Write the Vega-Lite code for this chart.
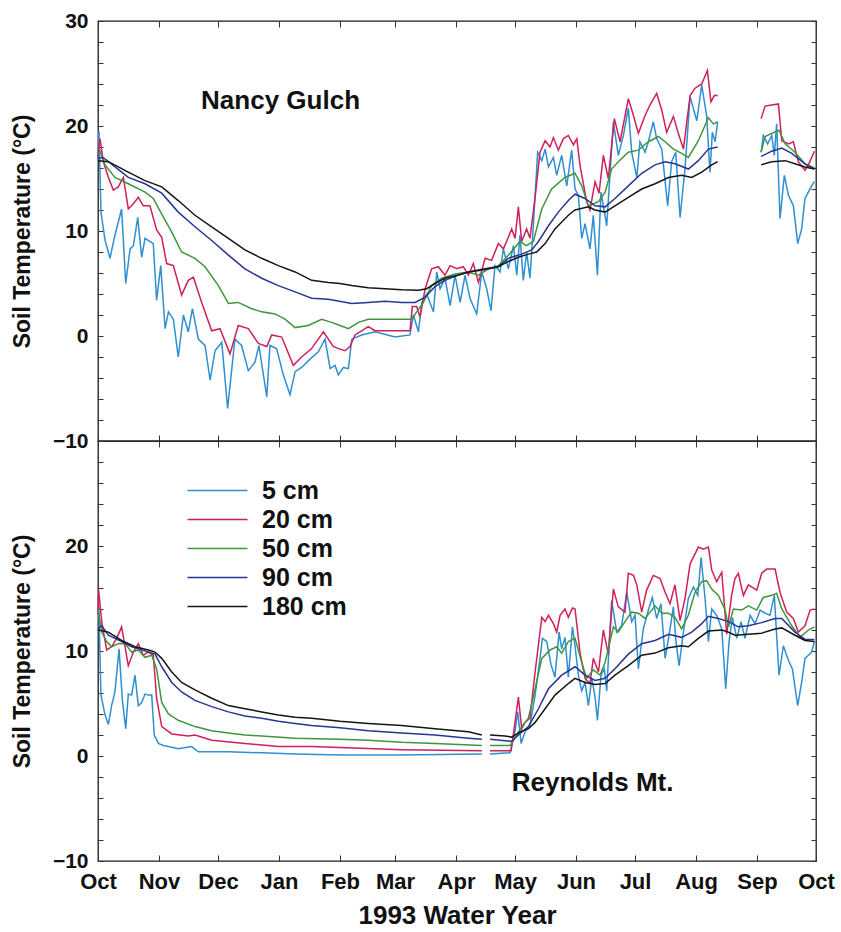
{
"$schema":"https://vega.github.io/schema/vega-lite/v6.json",
"padding":{"left":10,"top":9,"right":20,"bottom":4},
"bounds":"flush",
"config":{
 "font":"Liberation Sans",
 "view":{"stroke":"#1a1a1a","strokeWidth":1.3},
 "axis":{"grid":false,"domain":false,"labelFont":"Liberation Sans","labelFontWeight":"bold","labelFontSize":21,"labelColor":"#111","tickColor":"#333","tickWidth":1,"titleFont":"Liberation Sans","titleFontWeight":"bold","titleColor":"#111"}
},
"datasets":{
"ng":[
{"d":"5 cm","t":0,"v":16.8},{"d":"5 cm","t":0.5,"v":19.5},{"d":"5 cm","t":1.5,"v":11.8},{"d":"5 cm","t":3.6,"v":9.1},{"d":"5 cm","t":6.1,"v":7.4},{"d":"5 cm","t":8.6,"v":9.6},{"d":"5 cm","t":12,"v":12.1},{"d":"5 cm","t":14.1,"v":5},{"d":"5 cm","t":16.3,"v":8.3},{"d":"5 cm","t":18,"v":8.6},{"d":"5 cm","t":20.2,"v":11.3},{"d":"5 cm","t":22.2,"v":7.5},{"d":"5 cm","t":23.9,"v":9.3},{"d":"5 cm","t":28.1,"v":8.8},{"d":"5 cm","t":29.8,"v":3.4},{"d":"5 cm","t":31.9,"v":6.7},{"d":"5 cm","t":34.1,"v":0.7},{"d":"5 cm","t":35.8,"v":2.3},{"d":"5 cm","t":38.3,"v":1.6},{"d":"5 cm","t":40.8,"v":-2},{"d":"5 cm","t":43.4,"v":2},{"d":"5 cm","t":45.9,"v":0.4},{"d":"5 cm","t":48,"v":2.6},{"d":"5 cm","t":51,"v":-0.3},{"d":"5 cm","t":54.4,"v":-0.9},{"d":"5 cm","t":57,"v":-4.2},{"d":"5 cm","t":59.5,"v":-1.4},{"d":"5 cm","t":62.9,"v":-0.6},{"d":"5 cm","t":65.9,"v":-6.9},{"d":"5 cm","t":69.6,"v":-0.3},{"d":"5 cm","t":73,"v":-0.9},{"d":"5 cm","t":76.4,"v":-3.3},{"d":"5 cm","t":79.8,"v":-2.5},{"d":"5 cm","t":81.8,"v":-0.9},{"d":"5 cm","t":85.8,"v":-5.8},{"d":"5 cm","t":87.4,"v":-0.9},{"d":"5 cm","t":90.8,"v":-1.2},{"d":"5 cm","t":94.2,"v":-3.7},{"d":"5 cm","t":97.6,"v":-5.6},{"d":"5 cm","t":100.2,"v":-3.4},{"d":"5 cm","t":103.5,"v":-3},{"d":"5 cm","t":107.8,"v":-2.2},{"d":"5 cm","t":112,"v":-1.5},{"d":"5 cm","t":115.4,"v":-0.3},{"d":"5 cm","t":118,"v":-3.1},{"d":"5 cm","t":120.5,"v":-2.8},{"d":"5 cm","t":122.2,"v":-3.7},{"d":"5 cm","t":124.7,"v":-3},{"d":"5 cm","t":127.3,"v":-3.1},{"d":"5 cm","t":129,"v":-0.3},{"d":"5 cm","t":134.1,"v":0.1},{"d":"5 cm","t":140.8,"v":0.4},{"d":"5 cm","t":151,"v":-0.1},{"d":"5 cm","t":158.6,"v":0.1},{"d":"5 cm","t":160.3,"v":2},{"d":"5 cm","t":162.9,"v":0.4},{"d":"5 cm","t":164.6,"v":3.2},{"d":"5 cm","t":167.1,"v":4},{"d":"5 cm","t":170.5,"v":2.3},{"d":"5 cm","t":172.2,"v":6.1},{"d":"5 cm","t":173.9,"v":4.5},{"d":"5 cm","t":176.4,"v":5.5},{"d":"5 cm","t":179,"v":2.9},{"d":"5 cm","t":181.5,"v":5.8},{"d":"5 cm","t":184.1,"v":3.2},{"d":"5 cm","t":186.6,"v":5.8},{"d":"5 cm","t":189.1,"v":3.6},{"d":"5 cm","t":192.5,"v":2.1},{"d":"5 cm","t":195.1,"v":6.1},{"d":"5 cm","t":197.6,"v":4.5},{"d":"5 cm","t":199.8,"v":2.4},{"d":"5 cm","t":201.8,"v":6.7},{"d":"5 cm","t":204.4,"v":6.1},{"d":"5 cm","t":206.1,"v":8.3},{"d":"5 cm","t":208.6,"v":6.4},{"d":"5 cm","t":211.2,"v":8.6},{"d":"5 cm","t":212.9,"v":5.8},{"d":"5 cm","t":214.5,"v":9.6},{"d":"5 cm","t":216.2,"v":5.3},{"d":"5 cm","t":217.9,"v":8},{"d":"5 cm","t":219.6,"v":5.5},{"d":"5 cm","t":221.3,"v":10.5},{"d":"5 cm","t":223.5,"v":17.5},{"d":"5 cm","t":225.6,"v":16.7},{"d":"5 cm","t":227.3,"v":17.8},{"d":"5 cm","t":229,"v":16.1},{"d":"5 cm","t":231.5,"v":17},{"d":"5 cm","t":233.2,"v":15.3},{"d":"5 cm","t":235.7,"v":17.2},{"d":"5 cm","t":238.3,"v":14.3},{"d":"5 cm","t":240.8,"v":17.7},{"d":"5 cm","t":242.5,"v":14},{"d":"5 cm","t":244.2,"v":13.4},{"d":"5 cm","t":245.9,"v":9.3},{"d":"5 cm","t":247.6,"v":10.7},{"d":"5 cm","t":250.1,"v":8.3},{"d":"5 cm","t":251.8,"v":11.5},{"d":"5 cm","t":253.9,"v":5.8},{"d":"5 cm","t":255.7,"v":13.7},{"d":"5 cm","t":258.6,"v":10.5},{"d":"5 cm","t":262,"v":20.4},{"d":"5 cm","t":264.5,"v":17.2},{"d":"5 cm","t":267.1,"v":19.1},{"d":"5 cm","t":269.6,"v":21.7},{"d":"5 cm","t":271.3,"v":17.5},{"d":"5 cm","t":273.9,"v":15.1},{"d":"5 cm","t":275.5,"v":18.5},{"d":"5 cm","t":278.1,"v":17.5},{"d":"5 cm","t":279.8,"v":18.5},{"d":"5 cm","t":282.3,"v":20.4},{"d":"5 cm","t":284,"v":18.8},{"d":"5 cm","t":286.6,"v":17.8},{"d":"5 cm","t":289.6,"v":12.4},{"d":"5 cm","t":291.6,"v":16.6},{"d":"5 cm","t":293.7,"v":17.5},{"d":"5 cm","t":295.9,"v":11.3},{"d":"5 cm","t":298.4,"v":15.9},{"d":"5 cm","t":301,"v":22.8},{"d":"5 cm","t":304.4,"v":20.5},{"d":"5 cm","t":306.9,"v":23.9},{"d":"5 cm","t":309.4,"v":21},{"d":"5 cm","t":311.1,"v":15.6},{"d":"5 cm","t":312.3,"v":19.4},{"d":"5 cm","t":313.7,"v":18.5},{"d":"5 cm","t":315,"v":20.4},{"d":"5 cm","t":326,"v":null},{"d":"5 cm","t":337.1,"v":17.5},{"d":"5 cm","t":338.2,"v":19.1},{"d":"5 cm","t":340.4,"v":18.3},{"d":"5 cm","t":342.5,"v":19.1},{"d":"5 cm","t":343.8,"v":17.2},{"d":"5 cm","t":345,"v":20.2},{"d":"5 cm","t":346.7,"v":11.2},{"d":"5 cm","t":348.9,"v":15.3},{"d":"5 cm","t":351,"v":13.4},{"d":"5 cm","t":353.5,"v":12.4},{"d":"5 cm","t":355.7,"v":8.8},{"d":"5 cm","t":357.7,"v":10.2},{"d":"5 cm","t":359.4,"v":13.1},{"d":"5 cm","t":361.1,"v":13.7},{"d":"5 cm","t":362.8,"v":14.3},{"d":"5 cm","t":364.2,"v":14.7},
{"d":"20 cm","t":0,"v":17},{"d":"20 cm","t":1,"v":18.8},{"d":"20 cm","t":2.7,"v":16.6},{"d":"20 cm","t":5.3,"v":15.1},{"d":"20 cm","t":7.8,"v":13.9},{"d":"20 cm","t":10.3,"v":14.2},{"d":"20 cm","t":12.9,"v":15.1},{"d":"20 cm","t":15.4,"v":12.1},{"d":"20 cm","t":18,"v":12.6},{"d":"20 cm","t":20.5,"v":13.2},{"d":"20 cm","t":23,"v":12.4},{"d":"20 cm","t":26.4,"v":12.4},{"d":"20 cm","t":29.8,"v":10.1},{"d":"20 cm","t":32.4,"v":9.4},{"d":"20 cm","t":34.9,"v":6.9},{"d":"20 cm","t":38.3,"v":6.7},{"d":"20 cm","t":42.5,"v":3.9},{"d":"20 cm","t":45.9,"v":5.3},{"d":"20 cm","t":48.5,"v":5.6},{"d":"20 cm","t":52.7,"v":3.2},{"d":"20 cm","t":57.8,"v":0.5},{"d":"20 cm","t":62,"v":0.7},{"d":"20 cm","t":67.1,"v":-1.7},{"d":"20 cm","t":71.3,"v":1},{"d":"20 cm","t":76.4,"v":0.7},{"d":"20 cm","t":81.5,"v":-0.7},{"d":"20 cm","t":85.8,"v":-1},{"d":"20 cm","t":88.3,"v":0.1},{"d":"20 cm","t":93.4,"v":-0.1},{"d":"20 cm","t":99.3,"v":-2.8},{"d":"20 cm","t":103.5,"v":-2},{"d":"20 cm","t":108.6,"v":-1.2},{"d":"20 cm","t":114.6,"v":0.4},{"d":"20 cm","t":119.6,"v":-1},{"d":"20 cm","t":122.2,"v":-1.2},{"d":"20 cm","t":125.6,"v":-1.4},{"d":"20 cm","t":128.1,"v":-1},{"d":"20 cm","t":130.7,"v":0.1},{"d":"20 cm","t":135.8,"v":0.7},{"d":"20 cm","t":137.4,"v":0.9},{"d":"20 cm","t":140.8,"v":0.5},{"d":"20 cm","t":147.6,"v":0.5},{"d":"20 cm","t":158.6,"v":0.5},{"d":"20 cm","t":159.8,"v":2.8},{"d":"20 cm","t":162,"v":2.8},{"d":"20 cm","t":163.7,"v":1.8},{"d":"20 cm","t":166.3,"v":4.5},{"d":"20 cm","t":169.6,"v":6.4},{"d":"20 cm","t":173,"v":6.6},{"d":"20 cm","t":176.4,"v":5.8},{"d":"20 cm","t":179,"v":6.7},{"d":"20 cm","t":182.4,"v":6.4},{"d":"20 cm","t":185.7,"v":6.6},{"d":"20 cm","t":188.3,"v":5.8},{"d":"20 cm","t":190.8,"v":6.9},{"d":"20 cm","t":193.4,"v":5.1},{"d":"20 cm","t":196.8,"v":7.4},{"d":"20 cm","t":200.1,"v":7.2},{"d":"20 cm","t":203.5,"v":8.8},{"d":"20 cm","t":206.1,"v":8.3},{"d":"20 cm","t":208.6,"v":9.4},{"d":"20 cm","t":210.3,"v":10.2},{"d":"20 cm","t":212,"v":9.3},{"d":"20 cm","t":213.7,"v":12.3},{"d":"20 cm","t":215.4,"v":9},{"d":"20 cm","t":217.9,"v":10.2},{"d":"20 cm","t":219.6,"v":9.3},{"d":"20 cm","t":222.2,"v":13.2},{"d":"20 cm","t":224.7,"v":17.5},{"d":"20 cm","t":227.3,"v":18.6},{"d":"20 cm","t":229.8,"v":18},{"d":"20 cm","t":231.5,"v":18.9},{"d":"20 cm","t":234,"v":17.7},{"d":"20 cm","t":236.6,"v":18.8},{"d":"20 cm","t":239.1,"v":19.1},{"d":"20 cm","t":241.7,"v":18.2},{"d":"20 cm","t":243.4,"v":18.8},{"d":"20 cm","t":245,"v":16.3},{"d":"20 cm","t":248.4,"v":12.8},{"d":"20 cm","t":250.1,"v":12},{"d":"20 cm","t":252.7,"v":14.7},{"d":"20 cm","t":254.7,"v":13.6},{"d":"20 cm","t":256.9,"v":17.2},{"d":"20 cm","t":259.4,"v":15},{"d":"20 cm","t":262.5,"v":20.7},{"d":"20 cm","t":265.4,"v":18.5},{"d":"20 cm","t":269.6,"v":22.6},{"d":"20 cm","t":272.2,"v":21},{"d":"20 cm","t":274.7,"v":19.3},{"d":"20 cm","t":278.1,"v":21},{"d":"20 cm","t":280.6,"v":22},{"d":"20 cm","t":284,"v":23.1},{"d":"20 cm","t":286.6,"v":21.5},{"d":"20 cm","t":289.1,"v":19.4},{"d":"20 cm","t":292.5,"v":20.9},{"d":"20 cm","t":295,"v":19.3},{"d":"20 cm","t":297.6,"v":17.8},{"d":"20 cm","t":301,"v":22.9},{"d":"20 cm","t":303.5,"v":23.6},{"d":"20 cm","t":306.9,"v":24},{"d":"20 cm","t":309.8,"v":25.3},{"d":"20 cm","t":311.6,"v":22.3},{"d":"20 cm","t":313.3,"v":22.9},{"d":"20 cm","t":315,"v":22.9},{"d":"20 cm","t":326,"v":null},{"d":"20 cm","t":337.1,"v":20.7},{"d":"20 cm","t":339.1,"v":21.9},{"d":"20 cm","t":342.5,"v":22},{"d":"20 cm","t":345.9,"v":22.1},{"d":"20 cm","t":347.6,"v":18.6},{"d":"20 cm","t":351,"v":18.3},{"d":"20 cm","t":353.5,"v":18.5},{"d":"20 cm","t":356,"v":16.6},{"d":"20 cm","t":359.4,"v":15.8},{"d":"20 cm","t":361.1,"v":16.3},{"d":"20 cm","t":364.2,"v":17.6},
{"d":"50 cm","t":0,"v":17.4},{"d":"50 cm","t":1,"v":17.6},{"d":"50 cm","t":3.6,"v":16.3},{"d":"50 cm","t":8.6,"v":15.1},{"d":"50 cm","t":15.4,"v":14.5},{"d":"50 cm","t":23.9,"v":13.7},{"d":"50 cm","t":28.1,"v":13.1},{"d":"50 cm","t":32.4,"v":11.6},{"d":"50 cm","t":37.5,"v":9.9},{"d":"50 cm","t":42.5,"v":8},{"d":"50 cm","t":49.3,"v":7.4},{"d":"50 cm","t":54.4,"v":6.6},{"d":"50 cm","t":61.2,"v":4.8},{"d":"50 cm","t":66.3,"v":3.1},{"d":"50 cm","t":71.3,"v":3.2},{"d":"50 cm","t":78.1,"v":2.6},{"d":"50 cm","t":83.2,"v":2.3},{"d":"50 cm","t":90,"v":2.1},{"d":"50 cm","t":95.1,"v":1.6},{"d":"50 cm","t":100.2,"v":0.8},{"d":"50 cm","t":106.9,"v":1},{"d":"50 cm","t":113.7,"v":1.6},{"d":"50 cm","t":118.8,"v":1.3},{"d":"50 cm","t":123,"v":1},{"d":"50 cm","t":127.3,"v":0.7},{"d":"50 cm","t":132.4,"v":1.3},{"d":"50 cm","t":137.4,"v":1.6},{"d":"50 cm","t":145.9,"v":1.6},{"d":"50 cm","t":159.5,"v":1.6},{"d":"50 cm","t":162,"v":2.3},{"d":"50 cm","t":165.4,"v":3.2},{"d":"50 cm","t":169.6,"v":4.8},{"d":"50 cm","t":174.7,"v":5.5},{"d":"50 cm","t":181.5,"v":5.9},{"d":"50 cm","t":188.3,"v":6.1},{"d":"50 cm","t":193.4,"v":5.8},{"d":"50 cm","t":198.5,"v":6.4},{"d":"50 cm","t":203.5,"v":6.7},{"d":"50 cm","t":208.6,"v":7.7},{"d":"50 cm","t":214.5,"v":9},{"d":"50 cm","t":217.9,"v":8.6},{"d":"50 cm","t":221.3,"v":9},{"d":"50 cm","t":225.6,"v":12.1},{"d":"50 cm","t":230.6,"v":14},{"d":"50 cm","t":237.4,"v":15.1},{"d":"50 cm","t":242.5,"v":15.5},{"d":"50 cm","t":245.9,"v":14.3},{"d":"50 cm","t":249.3,"v":12.4},{"d":"50 cm","t":254.4,"v":12.8},{"d":"50 cm","t":257.8,"v":13.7},{"d":"50 cm","t":261.1,"v":15.9},{"d":"50 cm","t":264.5,"v":16.6},{"d":"50 cm","t":269.6,"v":17.5},{"d":"50 cm","t":274.7,"v":17.7},{"d":"50 cm","t":279.8,"v":18.5},{"d":"50 cm","t":284.9,"v":19},{"d":"50 cm","t":288.3,"v":18.5},{"d":"50 cm","t":292.5,"v":17.8},{"d":"50 cm","t":296.7,"v":17.4},{"d":"50 cm","t":300.1,"v":17},{"d":"50 cm","t":305.2,"v":18.6},{"d":"50 cm","t":310.3,"v":20.8},{"d":"50 cm","t":312.8,"v":20.2},{"d":"50 cm","t":315,"v":20.4},{"d":"50 cm","t":326,"v":null},{"d":"50 cm","t":337.1,"v":17.5},{"d":"50 cm","t":339.1,"v":19},{"d":"50 cm","t":342.5,"v":19.3},{"d":"50 cm","t":346.2,"v":19.6},{"d":"50 cm","t":349.3,"v":18.3},{"d":"50 cm","t":354.3,"v":17.5},{"d":"50 cm","t":359.4,"v":16.4},{"d":"50 cm","t":364.2,"v":16},
{"d":"90 cm","t":0,"v":16.9},{"d":"90 cm","t":2.5,"v":17},{"d":"90 cm","t":5.3,"v":16.6},{"d":"90 cm","t":15.4,"v":15.1},{"d":"90 cm","t":23.9,"v":14.5},{"d":"90 cm","t":32.4,"v":13.6},{"d":"90 cm","t":40.8,"v":11.8},{"d":"90 cm","t":49.3,"v":10.4},{"d":"90 cm","t":57.8,"v":9.1},{"d":"90 cm","t":66.3,"v":7.7},{"d":"90 cm","t":74.7,"v":6.4},{"d":"90 cm","t":83.2,"v":5.5},{"d":"90 cm","t":91.7,"v":4.8},{"d":"90 cm","t":100.2,"v":4.2},{"d":"90 cm","t":108.6,"v":3.6},{"d":"90 cm","t":117.1,"v":3.5},{"d":"90 cm","t":129,"v":3.1},{"d":"90 cm","t":137.4,"v":3.2},{"d":"90 cm","t":145.9,"v":3.3},{"d":"90 cm","t":154.4,"v":3.2},{"d":"90 cm","t":161.2,"v":3.2},{"d":"90 cm","t":166.3,"v":3.7},{"d":"90 cm","t":171.3,"v":4.7},{"d":"90 cm","t":176.4,"v":5.3},{"d":"90 cm","t":183.2,"v":5.8},{"d":"90 cm","t":188.3,"v":6.1},{"d":"90 cm","t":196.8,"v":6.3},{"d":"90 cm","t":203.5,"v":6.6},{"d":"90 cm","t":208.6,"v":7.4},{"d":"90 cm","t":215.4,"v":7.8},{"d":"90 cm","t":220.5,"v":8.2},{"d":"90 cm","t":223.9,"v":9},{"d":"90 cm","t":229,"v":10.5},{"d":"90 cm","t":234,"v":11.8},{"d":"90 cm","t":239.1,"v":12.9},{"d":"90 cm","t":242.5,"v":13.5},{"d":"90 cm","t":247.6,"v":13.1},{"d":"90 cm","t":252.7,"v":12.4},{"d":"90 cm","t":257.8,"v":12.3},{"d":"90 cm","t":262.8,"v":13.1},{"d":"90 cm","t":269.6,"v":14.3},{"d":"90 cm","t":276.4,"v":15.5},{"d":"90 cm","t":283.2,"v":16.3},{"d":"90 cm","t":288.3,"v":16.6},{"d":"90 cm","t":293.3,"v":16.4},{"d":"90 cm","t":300.1,"v":15.9},{"d":"90 cm","t":305.2,"v":16.7},{"d":"90 cm","t":310.3,"v":17.8},{"d":"90 cm","t":315,"v":18},{"d":"90 cm","t":326,"v":null},{"d":"90 cm","t":337.1,"v":17.1},{"d":"90 cm","t":342.5,"v":17.6},{"d":"90 cm","t":347.6,"v":17.9},{"d":"90 cm","t":352.7,"v":17.4},{"d":"90 cm","t":359.4,"v":16.4},{"d":"90 cm","t":364.2,"v":15.9},
{"d":"180 cm","t":0,"v":16.7},{"d":"180 cm","t":5.3,"v":16.6},{"d":"180 cm","t":15.4,"v":15.6},{"d":"180 cm","t":23.9,"v":14.8},{"d":"180 cm","t":32.4,"v":14.2},{"d":"180 cm","t":40.8,"v":12.9},{"d":"180 cm","t":49.3,"v":11.5},{"d":"180 cm","t":57.8,"v":10.4},{"d":"180 cm","t":66.3,"v":9.3},{"d":"180 cm","t":74.7,"v":8.2},{"d":"180 cm","t":83.2,"v":7.4},{"d":"180 cm","t":91.7,"v":6.7},{"d":"180 cm","t":100.2,"v":6.1},{"d":"180 cm","t":108.6,"v":5.3},{"d":"180 cm","t":117.1,"v":5.1},{"d":"180 cm","t":123,"v":5},{"d":"180 cm","t":129,"v":4.8},{"d":"180 cm","t":137.4,"v":4.6},{"d":"180 cm","t":145.9,"v":4.5},{"d":"180 cm","t":154.4,"v":4.4},{"d":"180 cm","t":162.9,"v":4.35},{"d":"180 cm","t":167.1,"v":4.5},{"d":"180 cm","t":171.3,"v":5},{"d":"180 cm","t":176.4,"v":5.5},{"d":"180 cm","t":183.2,"v":5.8},{"d":"180 cm","t":188.3,"v":6.1},{"d":"180 cm","t":196.8,"v":6.4},{"d":"180 cm","t":203.5,"v":6.6},{"d":"180 cm","t":208.6,"v":7.1},{"d":"180 cm","t":213.7,"v":7.5},{"d":"180 cm","t":218.8,"v":7.8},{"d":"180 cm","t":223,"v":8},{"d":"180 cm","t":227.3,"v":8.8},{"d":"180 cm","t":232.3,"v":10.2},{"d":"180 cm","t":239.1,"v":11.5},{"d":"180 cm","t":242.5,"v":12},{"d":"180 cm","t":249.3,"v":12.3},{"d":"180 cm","t":252.7,"v":12},{"d":"180 cm","t":257.8,"v":11.8},{"d":"180 cm","t":262.8,"v":12.4},{"d":"180 cm","t":269.6,"v":13.2},{"d":"180 cm","t":276.4,"v":14},{"d":"180 cm","t":283.2,"v":14.5},{"d":"180 cm","t":290,"v":15.1},{"d":"180 cm","t":296.7,"v":15.3},{"d":"180 cm","t":301.8,"v":15.1},{"d":"180 cm","t":306.9,"v":15.6},{"d":"180 cm","t":312,"v":16.3},{"d":"180 cm","t":315,"v":16.6},{"d":"180 cm","t":326,"v":null},{"d":"180 cm","t":337.1,"v":16.3},{"d":"180 cm","t":342.5,"v":16.6},{"d":"180 cm","t":349.3,"v":16.7},{"d":"180 cm","t":354.3,"v":16.4},{"d":"180 cm","t":359.4,"v":16.1},{"d":"180 cm","t":364.2,"v":15.9}
],
"rm":[
{"d":"5 cm","t":0,"v":13.8},{"d":"5 cm","t":0.4,"v":14.5},{"d":"5 cm","t":1.5,"v":5.8},{"d":"5 cm","t":3.6,"v":3.9},{"d":"5 cm","t":5.3,"v":3},{"d":"5 cm","t":6.9,"v":4.8},{"d":"5 cm","t":8.6,"v":6.1},{"d":"5 cm","t":10.7,"v":10.2},{"d":"5 cm","t":12.4,"v":5.3},{"d":"5 cm","t":14.1,"v":2.6},{"d":"5 cm","t":15.4,"v":5.9},{"d":"5 cm","t":17.1,"v":5.8},{"d":"5 cm","t":18.8,"v":7.7},{"d":"5 cm","t":20.5,"v":4.8},{"d":"5 cm","t":22.2,"v":5.1},{"d":"5 cm","t":23.9,"v":5.9},{"d":"5 cm","t":25.6,"v":5.8},{"d":"5 cm","t":27.3,"v":5.8},{"d":"5 cm","t":28.6,"v":2},{"d":"5 cm","t":30.7,"v":1.2},{"d":"5 cm","t":33.2,"v":1},{"d":"5 cm","t":35.8,"v":0.9},{"d":"5 cm","t":40.8,"v":0.7},{"d":"5 cm","t":47.6,"v":0.9},{"d":"5 cm","t":51,"v":0.4},{"d":"5 cm","t":66.3,"v":0.4},{"d":"5 cm","t":83.2,"v":0.3},{"d":"5 cm","t":100.2,"v":0.2},{"d":"5 cm","t":123,"v":0.1},{"d":"5 cm","t":154.4,"v":0.1},{"d":"5 cm","t":195.1,"v":0.2},{"d":"5 cm","t":197,"v":null},{"d":"5 cm","t":199.3,"v":0.2},{"d":"5 cm","t":209.5,"v":0.3},{"d":"5 cm","t":212,"v":2.4},{"d":"5 cm","t":213.4,"v":4.2},{"d":"5 cm","t":215.1,"v":1.2},{"d":"5 cm","t":217.1,"v":2.3},{"d":"5 cm","t":219.6,"v":2.9},{"d":"5 cm","t":222.2,"v":5.8},{"d":"5 cm","t":224.7,"v":9.3},{"d":"5 cm","t":225.9,"v":11.2},{"d":"5 cm","t":228.1,"v":10.9},{"d":"5 cm","t":230.3,"v":8.7},{"d":"5 cm","t":232.3,"v":7.5},{"d":"5 cm","t":234.4,"v":11.8},{"d":"5 cm","t":235.7,"v":10.2},{"d":"5 cm","t":237.4,"v":11.3},{"d":"5 cm","t":239.1,"v":7.5},{"d":"5 cm","t":241.2,"v":12.3},{"d":"5 cm","t":242.5,"v":10.5},{"d":"5 cm","t":244.2,"v":7.7},{"d":"5 cm","t":245.9,"v":6.2},{"d":"5 cm","t":247.6,"v":7},{"d":"5 cm","t":249.3,"v":4.8},{"d":"5 cm","t":251,"v":7.4},{"d":"5 cm","t":252.7,"v":5.6},{"d":"5 cm","t":253.9,"v":3.4},{"d":"5 cm","t":255.7,"v":7.7},{"d":"5 cm","t":257.4,"v":8.3},{"d":"5 cm","t":258.6,"v":6.2},{"d":"5 cm","t":261.1,"v":14.8},{"d":"5 cm","t":263.7,"v":11.8},{"d":"5 cm","t":266.2,"v":12.4},{"d":"5 cm","t":268.8,"v":15.6},{"d":"5 cm","t":271.3,"v":12.8},{"d":"5 cm","t":273,"v":13.4},{"d":"5 cm","t":274.7,"v":8.3},{"d":"5 cm","t":277.2,"v":12.1},{"d":"5 cm","t":279.8,"v":13.9},{"d":"5 cm","t":281.8,"v":15.1},{"d":"5 cm","t":284,"v":13.1},{"d":"5 cm","t":286.2,"v":14.5},{"d":"5 cm","t":288.3,"v":9.3},{"d":"5 cm","t":290.3,"v":11.5},{"d":"5 cm","t":292.5,"v":14.2},{"d":"5 cm","t":293.8,"v":10.9},{"d":"5 cm","t":295.4,"v":8.6},{"d":"5 cm","t":297.6,"v":11.8},{"d":"5 cm","t":300.1,"v":15},{"d":"5 cm","t":302.7,"v":16.1},{"d":"5 cm","t":304.9,"v":15.3},{"d":"5 cm","t":306.6,"v":18.9},{"d":"5 cm","t":308.6,"v":15},{"d":"5 cm","t":310.3,"v":10.9},{"d":"5 cm","t":312,"v":14},{"d":"5 cm","t":314.5,"v":13.4},{"d":"5 cm","t":317.1,"v":12.1},{"d":"5 cm","t":319.1,"v":6.4},{"d":"5 cm","t":320.8,"v":10.9},{"d":"5 cm","t":322.5,"v":13.2},{"d":"5 cm","t":324.7,"v":11.2},{"d":"5 cm","t":326.9,"v":12.8},{"d":"5 cm","t":328.9,"v":11.2},{"d":"5 cm","t":331.5,"v":13.4},{"d":"5 cm","t":334,"v":12.6},{"d":"5 cm","t":336.6,"v":13.9},{"d":"5 cm","t":339.1,"v":13.6},{"d":"5 cm","t":341.6,"v":13.4},{"d":"5 cm","t":343.8,"v":15.3},{"d":"5 cm","t":346.2,"v":7.7},{"d":"5 cm","t":348.4,"v":10.5},{"d":"5 cm","t":351,"v":9.1},{"d":"5 cm","t":353,"v":8.3},{"d":"5 cm","t":355.7,"v":4.8},{"d":"5 cm","t":357.7,"v":7},{"d":"5 cm","t":359.4,"v":9.3},{"d":"5 cm","t":361.1,"v":9.6},{"d":"5 cm","t":362.8,"v":9.9},{"d":"5 cm","t":364.2,"v":10.9},
{"d":"20 cm","t":0,"v":13.5},{"d":"20 cm","t":0.3,"v":15.8},{"d":"20 cm","t":1.9,"v":12.8},{"d":"20 cm","t":4.4,"v":10.1},{"d":"20 cm","t":6.9,"v":10.4},{"d":"20 cm","t":9.5,"v":11.2},{"d":"20 cm","t":12,"v":12.3},{"d":"20 cm","t":15.4,"v":8.6},{"d":"20 cm","t":18,"v":9.9},{"d":"20 cm","t":20.5,"v":10.7},{"d":"20 cm","t":23,"v":9.6},{"d":"20 cm","t":25.6,"v":9.9},{"d":"20 cm","t":28.1,"v":9.6},{"d":"20 cm","t":29.8,"v":5.5},{"d":"20 cm","t":32.4,"v":2.8},{"d":"20 cm","t":37.5,"v":2.1},{"d":"20 cm","t":45.9,"v":1.9},{"d":"20 cm","t":49.3,"v":2},{"d":"20 cm","t":57.8,"v":1.5},{"d":"20 cm","t":74.7,"v":1.2},{"d":"20 cm","t":91.7,"v":0.9},{"d":"20 cm","t":108.6,"v":0.9},{"d":"20 cm","t":123,"v":0.8},{"d":"20 cm","t":154.4,"v":0.6},{"d":"20 cm","t":195.1,"v":0.5},{"d":"20 cm","t":197,"v":null},{"d":"20 cm","t":199.3,"v":0.5},{"d":"20 cm","t":210,"v":0.5},{"d":"20 cm","t":212,"v":3.2},{"d":"20 cm","t":213.7,"v":5.6},{"d":"20 cm","t":215.4,"v":2.6},{"d":"20 cm","t":217.1,"v":3.2},{"d":"20 cm","t":219.6,"v":3.6},{"d":"20 cm","t":222.2,"v":8},{"d":"20 cm","t":225.6,"v":13.2},{"d":"20 cm","t":227.3,"v":12.8},{"d":"20 cm","t":229,"v":13.4},{"d":"20 cm","t":231.5,"v":12.6},{"d":"20 cm","t":233.2,"v":11.8},{"d":"20 cm","t":234.9,"v":13.4},{"d":"20 cm","t":237.4,"v":14},{"d":"20 cm","t":239.1,"v":13.2},{"d":"20 cm","t":241.2,"v":14.1},{"d":"20 cm","t":242.5,"v":14},{"d":"20 cm","t":245,"v":9.9},{"d":"20 cm","t":247.6,"v":7.4},{"d":"20 cm","t":250.1,"v":6.9},{"d":"20 cm","t":251.8,"v":9.3},{"d":"20 cm","t":254.4,"v":8},{"d":"20 cm","t":256.9,"v":12},{"d":"20 cm","t":259.4,"v":9.7},{"d":"20 cm","t":262,"v":15.9},{"d":"20 cm","t":264.5,"v":14.2},{"d":"20 cm","t":267.9,"v":13.7},{"d":"20 cm","t":269.6,"v":17.4},{"d":"20 cm","t":272.2,"v":17.2},{"d":"20 cm","t":273.9,"v":16.3},{"d":"20 cm","t":276.4,"v":13.7},{"d":"20 cm","t":278.9,"v":15.8},{"d":"20 cm","t":282.3,"v":17.2},{"d":"20 cm","t":285.7,"v":16.9},{"d":"20 cm","t":288.3,"v":15.6},{"d":"20 cm","t":290.8,"v":14.5},{"d":"20 cm","t":293.3,"v":16.3},{"d":"20 cm","t":295.9,"v":12.9},{"d":"20 cm","t":298.4,"v":15},{"d":"20 cm","t":301,"v":18.3},{"d":"20 cm","t":305.2,"v":19.9},{"d":"20 cm","t":307.7,"v":19.7},{"d":"20 cm","t":310.3,"v":19.9},{"d":"20 cm","t":312,"v":17.7},{"d":"20 cm","t":314.5,"v":16.6},{"d":"20 cm","t":317.1,"v":17.5},{"d":"20 cm","t":319.6,"v":11.6},{"d":"20 cm","t":322.1,"v":15.3},{"d":"20 cm","t":323.8,"v":16.9},{"d":"20 cm","t":325.5,"v":17.4},{"d":"20 cm","t":328.1,"v":15.3},{"d":"20 cm","t":330.6,"v":16.3},{"d":"20 cm","t":334.9,"v":15.8},{"d":"20 cm","t":337.4,"v":17.4},{"d":"20 cm","t":339.9,"v":17.8},{"d":"20 cm","t":344.2,"v":17.8},{"d":"20 cm","t":346.7,"v":15.6},{"d":"20 cm","t":350.1,"v":13.7},{"d":"20 cm","t":353.5,"v":13.1},{"d":"20 cm","t":356,"v":11.8},{"d":"20 cm","t":359.4,"v":12.4},{"d":"20 cm","t":362,"v":13.9},{"d":"20 cm","t":364.2,"v":14},
{"d":"50 cm","t":0,"v":14},{"d":"50 cm","t":1.9,"v":11.8},{"d":"50 cm","t":4.4,"v":10.9},{"d":"50 cm","t":6.9,"v":10.4},{"d":"50 cm","t":10.3,"v":10.7},{"d":"50 cm","t":13.7,"v":10.7},{"d":"50 cm","t":17.1,"v":9.9},{"d":"50 cm","t":20.5,"v":10.1},{"d":"50 cm","t":23.9,"v":9.4},{"d":"50 cm","t":27.3,"v":9.6},{"d":"50 cm","t":29.8,"v":8.3},{"d":"50 cm","t":32.4,"v":5.1},{"d":"50 cm","t":35.8,"v":4},{"d":"50 cm","t":40.8,"v":3.4},{"d":"50 cm","t":49.3,"v":2.8},{"d":"50 cm","t":57.8,"v":2.4},{"d":"50 cm","t":66.3,"v":2.2},{"d":"50 cm","t":74.7,"v":2},{"d":"50 cm","t":83.2,"v":1.9},{"d":"50 cm","t":100.2,"v":1.7},{"d":"50 cm","t":123,"v":1.6},{"d":"50 cm","t":137.4,"v":1.5},{"d":"50 cm","t":154.4,"v":1.3},{"d":"50 cm","t":171.3,"v":1.2},{"d":"50 cm","t":195.1,"v":1},{"d":"50 cm","t":197,"v":null},{"d":"50 cm","t":199.3,"v":1},{"d":"50 cm","t":209.5,"v":1},{"d":"50 cm","t":212.9,"v":2},{"d":"50 cm","t":215.4,"v":2.8},{"d":"50 cm","t":218.8,"v":3.6},{"d":"50 cm","t":222.2,"v":6.4},{"d":"50 cm","t":225.6,"v":9.3},{"d":"50 cm","t":229.8,"v":10.1},{"d":"50 cm","t":233.2,"v":10.4},{"d":"50 cm","t":235.7,"v":9.8},{"d":"50 cm","t":239.1,"v":10.9},{"d":"50 cm","t":242.5,"v":11.2},{"d":"50 cm","t":245.9,"v":8.9},{"d":"50 cm","t":248.4,"v":7.4},{"d":"50 cm","t":251.8,"v":8.2},{"d":"50 cm","t":255.2,"v":7.7},{"d":"50 cm","t":257.8,"v":8.9},{"d":"50 cm","t":262,"v":12.3},{"d":"50 cm","t":264.5,"v":11.8},{"d":"50 cm","t":267.9,"v":12.8},{"d":"50 cm","t":271.3,"v":13.7},{"d":"50 cm","t":274.7,"v":13.6},{"d":"50 cm","t":278.1,"v":13.1},{"d":"50 cm","t":283.2,"v":14.3},{"d":"50 cm","t":286.6,"v":13.6},{"d":"50 cm","t":290,"v":13.6},{"d":"50 cm","t":293.3,"v":13.2},{"d":"50 cm","t":296.7,"v":12.1},{"d":"50 cm","t":300.1,"v":13.4},{"d":"50 cm","t":303.5,"v":15.6},{"d":"50 cm","t":306.9,"v":16.6},{"d":"50 cm","t":309.4,"v":16.7},{"d":"50 cm","t":312,"v":15.9},{"d":"50 cm","t":315.4,"v":15.3},{"d":"50 cm","t":318.8,"v":13.9},{"d":"50 cm","t":320.5,"v":12.3},{"d":"50 cm","t":323,"v":14},{"d":"50 cm","t":327.2,"v":13.9},{"d":"50 cm","t":330.6,"v":14.3},{"d":"50 cm","t":334.9,"v":13.9},{"d":"50 cm","t":338.2,"v":15.1},{"d":"50 cm","t":342.5,"v":15.3},{"d":"50 cm","t":345,"v":15.5},{"d":"50 cm","t":347.6,"v":14},{"d":"50 cm","t":352.7,"v":12.4},{"d":"50 cm","t":356.9,"v":11.3},{"d":"50 cm","t":361.1,"v":12},{"d":"50 cm","t":364.2,"v":12.3},
{"d":"90 cm","t":0,"v":12.1},{"d":"90 cm","t":1.9,"v":12.4},{"d":"90 cm","t":5.3,"v":11.5},{"d":"90 cm","t":12,"v":10.9},{"d":"90 cm","t":17.1,"v":10.4},{"d":"90 cm","t":20.5,"v":10.2},{"d":"90 cm","t":25.6,"v":9.9},{"d":"90 cm","t":29,"v":9.7},{"d":"90 cm","t":32.4,"v":8.5},{"d":"90 cm","t":37.5,"v":7},{"d":"90 cm","t":42.5,"v":6.1},{"d":"90 cm","t":49.3,"v":5.3},{"d":"90 cm","t":57.8,"v":4.7},{"d":"90 cm","t":66.3,"v":4.2},{"d":"90 cm","t":74.7,"v":3.8},{"d":"90 cm","t":83.2,"v":3.6},{"d":"90 cm","t":91.7,"v":3.3},{"d":"90 cm","t":100.2,"v":3.1},{"d":"90 cm","t":108.6,"v":2.9},{"d":"90 cm","t":123,"v":2.7},{"d":"90 cm","t":137.4,"v":2.4},{"d":"90 cm","t":154.4,"v":2.2},{"d":"90 cm","t":171.3,"v":2},{"d":"90 cm","t":188.3,"v":1.7},{"d":"90 cm","t":195.1,"v":1.6},{"d":"90 cm","t":197,"v":null},{"d":"90 cm","t":199.3,"v":1.6},{"d":"90 cm","t":210.3,"v":1.4},{"d":"90 cm","t":213.7,"v":2},{"d":"90 cm","t":218.8,"v":2.8},{"d":"90 cm","t":223.9,"v":4.5},{"d":"90 cm","t":229,"v":6.4},{"d":"90 cm","t":235.7,"v":7.7},{"d":"90 cm","t":242.5,"v":8.5},{"d":"90 cm","t":247.6,"v":7.7},{"d":"90 cm","t":252.7,"v":7.2},{"d":"90 cm","t":257.8,"v":7.4},{"d":"90 cm","t":262.8,"v":8.3},{"d":"90 cm","t":269.6,"v":9.7},{"d":"90 cm","t":276.4,"v":10.7},{"d":"90 cm","t":283.2,"v":11},{"d":"90 cm","t":290,"v":11.6},{"d":"90 cm","t":296.7,"v":11.3},{"d":"90 cm","t":301.8,"v":11.8},{"d":"90 cm","t":306.9,"v":12.6},{"d":"90 cm","t":310.3,"v":13.3},{"d":"90 cm","t":315.4,"v":13.1},{"d":"90 cm","t":320.5,"v":12.8},{"d":"90 cm","t":325.5,"v":12.3},{"d":"90 cm","t":330.6,"v":12.4},{"d":"90 cm","t":337.4,"v":12.7},{"d":"90 cm","t":344.2,"v":13.1},{"d":"90 cm","t":347.6,"v":13.1},{"d":"90 cm","t":354.3,"v":11.8},{"d":"90 cm","t":359.4,"v":11.1},{"d":"90 cm","t":364.2,"v":11.1},
{"d":"180 cm","t":0,"v":12},{"d":"180 cm","t":5.3,"v":11.8},{"d":"180 cm","t":12,"v":11},{"d":"180 cm","t":18.8,"v":10.4},{"d":"180 cm","t":25.6,"v":10.1},{"d":"180 cm","t":29,"v":9.9},{"d":"180 cm","t":32.4,"v":9.3},{"d":"180 cm","t":37.5,"v":8},{"d":"180 cm","t":42.5,"v":7},{"d":"180 cm","t":49.3,"v":6.3},{"d":"180 cm","t":57.8,"v":5.5},{"d":"180 cm","t":66.3,"v":4.8},{"d":"180 cm","t":74.7,"v":4.5},{"d":"180 cm","t":83.2,"v":4.2},{"d":"180 cm","t":91.7,"v":3.9},{"d":"180 cm","t":100.2,"v":3.7},{"d":"180 cm","t":108.6,"v":3.6},{"d":"180 cm","t":123,"v":3.3},{"d":"180 cm","t":137.4,"v":3.1},{"d":"180 cm","t":154.4,"v":2.9},{"d":"180 cm","t":171.3,"v":2.6},{"d":"180 cm","t":188.3,"v":2.3},{"d":"180 cm","t":195.1,"v":2},{"d":"180 cm","t":197,"v":null},{"d":"180 cm","t":199.3,"v":2},{"d":"180 cm","t":206.9,"v":1.9},{"d":"180 cm","t":210.3,"v":1.8},{"d":"180 cm","t":214.5,"v":2.3},{"d":"180 cm","t":218.8,"v":2.6},{"d":"180 cm","t":222.2,"v":3.2},{"d":"180 cm","t":227.3,"v":4.5},{"d":"180 cm","t":232.3,"v":5.8},{"d":"180 cm","t":239.1,"v":6.9},{"d":"180 cm","t":242.5,"v":7.4},{"d":"180 cm","t":247.6,"v":7},{"d":"180 cm","t":252.7,"v":6.8},{"d":"180 cm","t":257.8,"v":6.9},{"d":"180 cm","t":262.8,"v":7.7},{"d":"180 cm","t":269.6,"v":8.6},{"d":"180 cm","t":276.4,"v":9.6},{"d":"180 cm","t":283.2,"v":9.8},{"d":"180 cm","t":290,"v":10.3},{"d":"180 cm","t":296.7,"v":10.5},{"d":"180 cm","t":300.1,"v":10.4},{"d":"180 cm","t":305.2,"v":11.2},{"d":"180 cm","t":310.3,"v":11.9},{"d":"180 cm","t":317.1,"v":12},{"d":"180 cm","t":320.5,"v":11.8},{"d":"180 cm","t":323.8,"v":11.5},{"d":"180 cm","t":330.6,"v":11.6},{"d":"180 cm","t":337.4,"v":11.7},{"d":"180 cm","t":344.2,"v":12.1},{"d":"180 cm","t":347.6,"v":12.2},{"d":"180 cm","t":354.3,"v":11.5},{"d":"180 cm","t":359.4,"v":11},{"d":"180 cm","t":364.2,"v":10.9}
]
},
"spacing":0,
"resolve":{"scale":{"color":"independent"}},
"vconcat":[
{
 "width":718,"height":420,
 "layer":[
  {
   "data":{"name":"ng"},
   "mark":{"type":"line","strokeWidth":1.5,"invalid":"break-paths-filter-domains"},
   "encoding":{
    "x":{"field":"t","type":"quantitative","scale":{"domain":[0,365],"nice":false,"zero":false},
     "axis":{"orient":"bottom","values":[0,31,61,92,123,151,182,212,243,273,304,335,365],"labels":false,"tickSize":-6,"title":null}},
    "y":{"field":"v","type":"quantitative","scale":{"domain":[-10,30],"nice":false,"zero":false},
     "axis":{"orient":"left","values":[-10,-8,-6,-4,-2,0,2,4,6,8,10,12,14,16,18,20,22,24,26,28,30],"labelExpr":"datum.value % 10 === 0 ? datum.label : ''","tickSize":-5,"labelPadding":15,"title":"Soil Temperature (°C)","titleFontSize":23,"titlePadding":18}},
    "color":{"field":"d","type":"nominal","scale":{"domain":["5 cm","20 cm","50 cm","90 cm","180 cm"],"range":["#2f8fd2","#d01f5c","#3f963c","#283593","#151515"]},"legend":null}
   }
  },
  {
   "data":{"values":[{}]},
   "mark":{"type":"text","text":"Nancy Gulch","align":"left","baseline":"alphabetic","fontSize":26,"fontWeight":"bold","font":"Liberation Sans","color":"#111"},
   "encoding":{
    "x":{"datum":52.4,"type":"quantitative","axis":{"orient":"top","values":[0,31,61,92,123,151,182,212,243,273,304,335,365],"labels":false,"tickSize":-6,"title":null}},
    "y":{"datum":21.6,"type":"quantitative","axis":{"orient":"right","values":[-10,-8,-6,-4,-2,0,2,4,6,8,10,12,14,16,18,20,22,24,26,28,30],"labels":false,"tickSize":-5,"title":null}}
   }
  }
 ],
 "resolve":{"axis":{"x":"independent","y":"independent"}}
},
{
 "width":718,"height":420,
 "layer":[
  {
   "data":{"name":"rm"},
   "mark":{"type":"line","strokeWidth":1.5,"invalid":"break-paths-filter-domains"},
   "encoding":{
    "x":{"field":"t","type":"quantitative","scale":{"domain":[0,365],"nice":false,"zero":false},
     "axis":{"orient":"bottom","values":[0,31,61,92,123,151,182,212,243,273,304,335,365],"labelExpr":"['Oct','Nov','Dec','Jan','Feb','Mar','Apr','May','Jun','Jul','Aug','Sep','Oct'][indexof([0,31,61,92,123,151,182,212,243,273,304,335,365], datum.value)]","labelFontSize":22,"labelOverlap":false,"labelFlush":false,"tickSize":-6,"labelPadding":16,"title":"1993 Water Year","titleFontSize":26,"titlePadding":10}},
    "y":{"field":"v","type":"quantitative","scale":{"domain":[-10,30],"nice":false,"zero":false},
     "axis":{"orient":"left","values":[-10,-8,-6,-4,-2,0,2,4,6,8,10,12,14,16,18,20,22,24,26,28,30],"labelExpr":"datum.value % 10 === 0 && datum.value < 30 ? datum.label : ''","tickSize":-5,"labelPadding":15,"title":"Soil Temperature (°C)","titleFontSize":23,"titlePadding":18}},
    "color":{"field":"d","type":"nominal","scale":{"domain":["5 cm","20 cm","50 cm","90 cm","180 cm"],"range":["#2f8fd2","#d01f5c","#3f963c","#283593","#151515"]},
     "legend":{"orient":"none","legendX":107,"legendY":37,"title":null,"padding":0,"symbolType":"M-4,0H4","symbolSize":225,"symbolStrokeWidth":1.5,"labelFontSize":25,"labelFontWeight":"bold","labelFont":"Liberation Sans","labelColor":"#111","labelOffset":32,"rowPadding":3}}
   }
  },
  {
   "data":{"values":[{}]},
   "mark":{"type":"text","text":"Reynolds Mt.","align":"left","baseline":"alphabetic","fontSize":26,"fontWeight":"bold","font":"Liberation Sans","color":"#111"},
   "encoding":{
    "x":{"datum":210.3,"type":"quantitative","axis":{"orient":"top","values":[0,31,61,92,123,151,182,212,243,273,304,335,365],"labels":false,"tickSize":-6,"title":null}},
    "y":{"datum":-3.3,"type":"quantitative","axis":{"orient":"right","values":[-10,-8,-6,-4,-2,0,2,4,6,8,10,12,14,16,18,20,22,24,26,28,30],"labels":false,"tickSize":-5,"title":null}}
   }
  }
 ],
 "resolve":{"axis":{"x":"independent","y":"independent"}}
}
]
}
